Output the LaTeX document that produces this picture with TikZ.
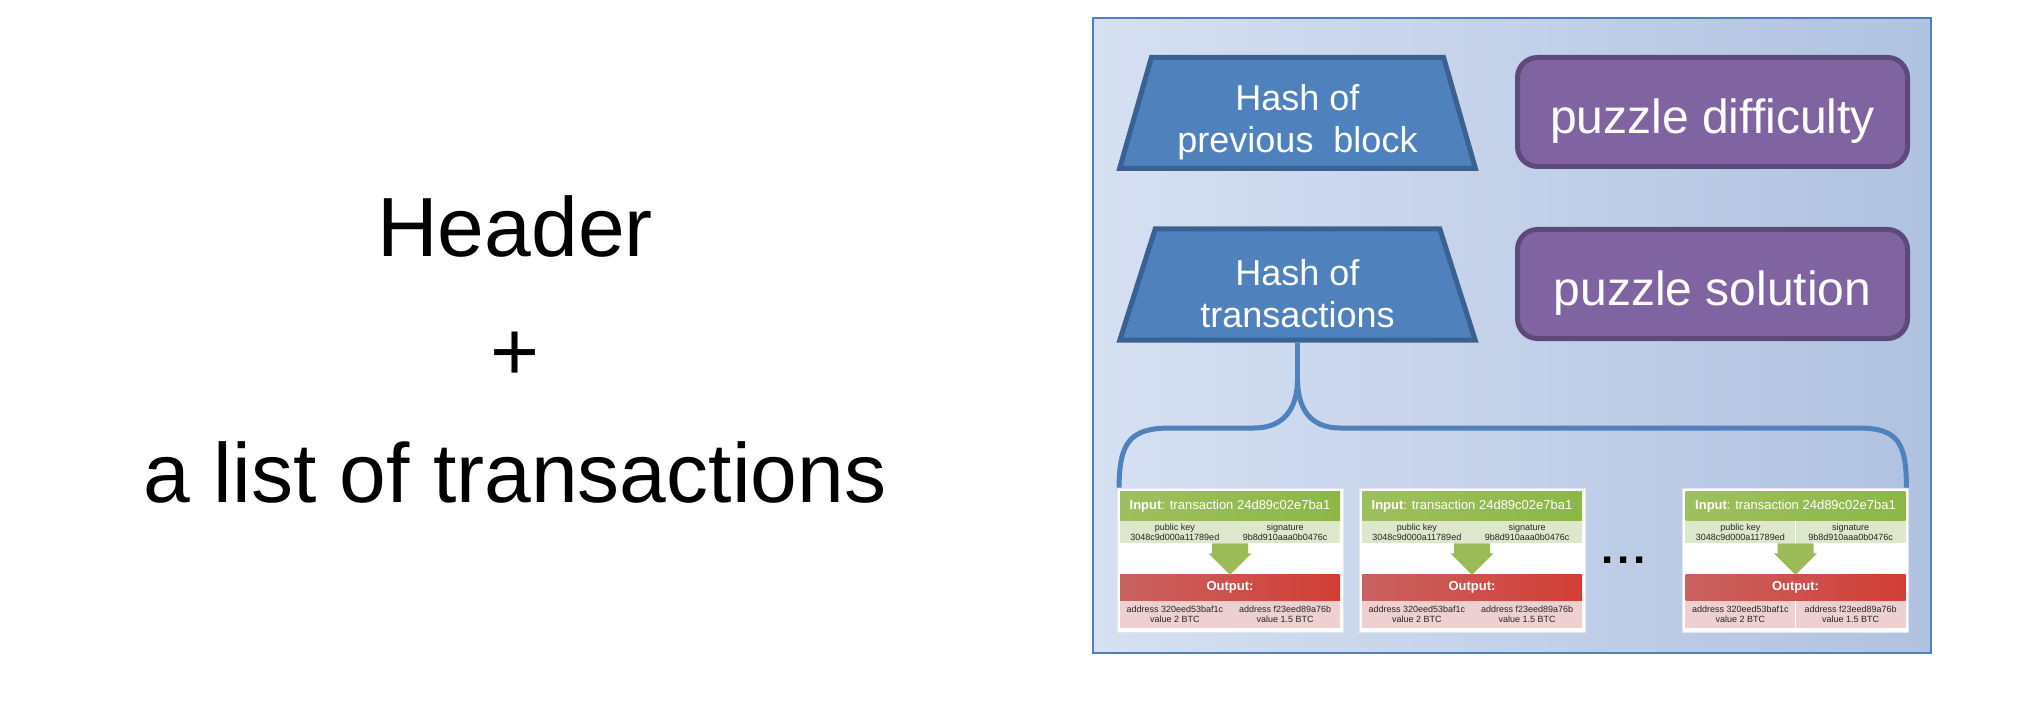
\documentclass[tikz,border=0pt]{standalone}
\usepackage{fontspec}
\setmainfont{Liberation Sans}
\usetikzlibrary{
  arrows.meta,
  shapes.geometric,
  positioning,
  calc
}
\definecolor{bcBlue}{HTML}{4F81BD}
\definecolor{bcBlueDk}{HTML}{3A6192}
\definecolor{bcPurple}{HTML}{8064A2}
\definecolor{bcPurpleDk}{HTML}{5E4A7A}
\definecolor{bcBgL}{HTML}{D6E0F2}
\definecolor{bcBgR}{HTML}{B0C2E1}
\definecolor{txGreenL}{HTML}{9EBF5F}
\definecolor{txGreenR}{HTML}{8CB747}
\definecolor{txGreenRow}{HTML}{DDE7CB}
\definecolor{txArrow}{HTML}{9BBB59}
\definecolor{txRedL}{HTML}{C96360}
\definecolor{txRedR}{HTML}{D23E36}
\definecolor{txRedRow}{HTML}{EDD0CF}
\newcommand{\hashstrut}{\rule{0pt}{44pt}}
\tikzset{
  bigtext/.style={font=\fontsize{84}{100}\selectfont, anchor=base},
  blockbg/.style={draw=bcBlue, line width=2pt, left color=bcBgL, right color=bcBgR,
    minimum width=838pt, minimum height=635pt, inner sep=0pt},
  hashbox/.style={trapezium, trapezium angle=75, trapezium stretches=true,
    minimum width=356pt, minimum height=111pt, fill=bcBlue, draw=bcBlueDk, line width=5pt,
    text=white, font=\fontsize{36}{42}\selectfont, align=center},
  puzzlebox/.style={rectangle, rounded corners=20pt, minimum width=390pt, minimum height=109pt,
    fill=bcPurple, draw=bcPurpleDk, line width=5pt, text=white, font=\fontsize{48}{56}\selectfont,
    execute at begin node={\rule{0pt}{53pt}}},
  brace/.style={draw=bcBlue, line width=5pt},
  txframe/.style={fill=white, draw=black!10, line width=0.8pt, minimum width=226pt,
    minimum height=144pt, inner sep=0pt},
  txhead/.style={minimum width=220pt, minimum height=29pt, inner sep=0pt, text=white,
    font=\fontsize{13}{15}\selectfont},
  txin/.style={txhead, left color=txGreenL, right color=txGreenR},
  txout/.style={txhead, minimum height=26pt, left color=txRedL, right color=txRedR},
  txcell/.style={minimum width=110pt, minimum height=22pt, inner sep=0pt, align=center,
    font=\fontsize{9}{10}\selectfont, text=black!85},
  txkey/.style={txcell, fill=txGreenRow},
  txaddr/.style={txcell, minimum height=27pt, fill=txRedRow},
  txarrow/.style={fill=txArrow}
}

\begin{document}
\begin{tikzpicture}[x=1pt, y=-1pt]
  \useasboundingbox (0,0) rectangle (2036,711);
  % left side
  \node[bigtext] (header) at (515,257) {Header};
  \node[bigtext] (plus) at (515,380) {+};
  \node[bigtext] (txlist) at (515,502) {a list of transactions};
  % block
  \node[blockbg] (block) at (1512,335.5) {};
  \node[hashbox] (hashprev) at (1297.5,113) {\hashstrut Hash of\\previous\ \ block};
  \node[hashbox] (hashtx) at (1297.5,284.5) {\hashstrut Hash of\\transactions};
  \node[puzzlebox] (difficulty) at (1712.5,112) {puzzle difficulty};
  \node[puzzlebox] (solution) at (1712.5,284) {puzzle solution};
  % transactions
  \foreach \i/\x in {1/1230, 2/1472, 3/1795.5} {
    \node[txframe] (tx\i) at (\x,560) {};
    \node[txin, anchor=north] (in\i) at ([yshift=-4pt]tx\i.north) {\textbf{Input}: transaction 24d89c02e7ba1};
    \node[txkey, anchor=north east] (key\i) at (in\i.south) {public key\\3048c9d000a11789ed};
    \node[txkey, anchor=north west] (sig\i) at (in\i.south) {signature\\9b8d910aaa0b0476c};
    \node[txout, anchor=north] (out\i) at ([yshift=-31pt]in\i.south |- key\i.south) {\textbf{Output:}};
    \node[txaddr, anchor=north east] (addra\i) at (out\i.south) {address 320eed53baf1c\\value 2 BTC};
    \node[txaddr, anchor=north west] (addrb\i) at (out\i.south) {address f23eed89a76b\\value 1.5 BTC};
    \coordinate (arr\i) at (in\i.south |- key\i.south);
    \fill[txarrow] ($(arr\i)+(-18,0)$) -- ++(36,0) -- ++(0,10) -- ++(3.5,0)
      -- ($(out\i.north)+(0,0.5)$) -- ($(arr\i)+(-21.5,10)$) -- ++(3.5,0) -- cycle;
  }
  \node[font=\fontsize{44}{48}\selectfont\bfseries] (more) at ([xshift=-10pt]$(tx2.east)!0.5!(tx3.west)$) {.\hspace{4pt}.\hspace{4pt}.};
  % brace
  \coordinate (fork) at ($(hashtx.south)+(0,36)$);
  \draw[brace] (hashtx.south) -- (fork);
  \draw[brace] (fork) .. controls +(0,30) and +(30,0) .. (1254,428) -- (1170,428)
    .. controls +(-40,0) and +(0,-45) .. ([xshift=2.5pt]tx1.north west);
  \draw[brace] (fork) .. controls +(0,30) and +(-30,0) .. (1340,428) -- (1858,428)
    .. controls +(40,0) and +(0,-45) .. ([xshift=-2.5pt]tx3.north east);
\end{tikzpicture}
\end{document}
